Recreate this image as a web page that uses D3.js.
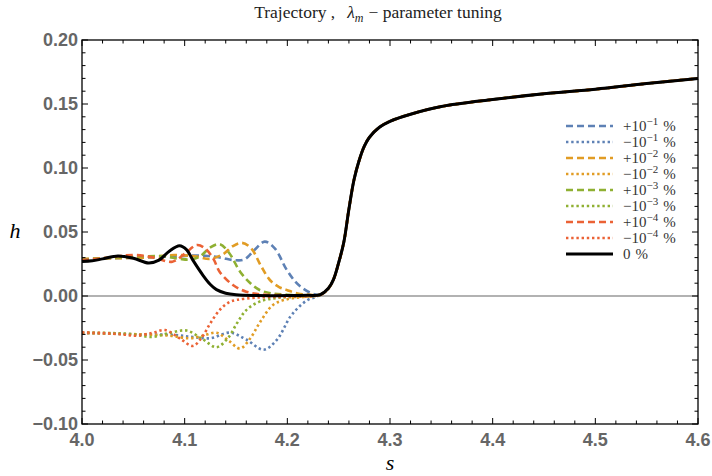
<!DOCTYPE html>
<html>
<head>
<meta charset="utf-8">
<script src="https://cdn.jsdelivr.net/npm/d3@7"></script>
<style>
body { margin: 0; background: #fff; }
</style>
</head>
<body>
<svg width="712" height="476"></svg>
<script>
// shared rise, all runs collapse onto it after s ~ 4.23
var tail = [[4.232,0.001],[4.24,0.006],[4.245,0.013],[4.25,0.026],[4.255,0.042],[4.26,0.068],
    [4.265,0.091],[4.27,0.106],[4.275,0.117],[4.28,0.124],[4.29,0.132],[4.30,0.1365],[4.32,0.142],
    [4.35,0.148],[4.4,0.1535],[4.45,0.158],[4.5,0.1615],[4.55,0.166],[4.6,0.170]];

var plus1 = [[4.0,0.0285],[4.03,0.0295],[4.06,0.030],[4.09,0.031],[4.12,0.0315],[4.135,0.030],[4.148,0.028],
    [4.158,0.0285],[4.168,0.036],[4.178,0.0425],[4.188,0.037],[4.199,0.021],[4.208,0.011],[4.215,0.006],[4.224,0.002]];
var minus1 = [[4.0,-0.029],[4.03,-0.0295],[4.06,-0.030],[4.09,-0.0305],[4.108,-0.032],[4.125,-0.033],[4.144,-0.0286],
    [4.16,-0.034],[4.177,-0.042],[4.19,-0.034],[4.203,-0.016],[4.212,-0.008],[4.22,-0.003],[4.227,-0.001]];
var plus2 = [[4.0,0.029],[4.03,0.0295],[4.06,0.030],[4.09,0.032],[4.11,0.031],[4.125,0.029],[4.138,0.033],
    [4.147,0.039],[4.156,0.0415],[4.165,0.037],[4.174,0.024],[4.183,0.0125],[4.192,0.007],[4.2,0.0045],[4.21,0.002],[4.222,0.001]];
var minus2 = [[4.0,-0.029],[4.03,-0.0295],[4.06,-0.030],[4.085,-0.031],[4.105,-0.033],[4.118,-0.031],[4.131,-0.0287],
    [4.143,-0.035],[4.154,-0.041],[4.164,-0.033],[4.173,-0.021],[4.186,-0.007],[4.2,-0.0025],[4.215,-0.0008]];
var plus3 = [[4.0,0.0285],[4.03,0.030],[4.06,0.031],[4.08,0.031],[4.095,0.029],[4.105,0.0285],[4.115,0.031],
    [4.125,0.038],[4.134,0.0405],[4.143,0.034],[4.154,0.019],[4.164,0.010],[4.173,0.0047],[4.185,0.002],[4.2,0.001],[4.222,0.0006]];
var minus3 = [[4.0,-0.0285],[4.03,-0.029],[4.05,-0.030],[4.068,-0.032],[4.085,-0.029],[4.102,-0.027],[4.118,-0.034],
    [4.131,-0.040],[4.142,-0.033],[4.151,-0.0212],[4.16,-0.011],[4.173,-0.0044],[4.19,-0.0015],[4.21,-0.0006]];
var plus4 = [[4.0,0.028],[4.02,0.0295],[4.05,0.032],[4.07,0.030],[4.088,0.0268],[4.1,0.033],[4.112,0.0398],
    [4.12,0.037],[4.128,0.029],[4.134,0.019],[4.147,0.0086],[4.16,0.0034],[4.175,0.0012],[4.2,0.0006],[4.222,0.0005]];
var minus4 = [[4.0,-0.0284],[4.02,-0.029],[4.04,-0.030],[4.052,-0.031],[4.068,-0.029],[4.081,-0.0266],[4.095,-0.033],
    [4.108,-0.039],[4.117,-0.032],[4.125,-0.0213],[4.134,-0.011],[4.143,-0.005],[4.151,-0.003],[4.17,-0.0012],[4.2,-0.0005]];
var exact = [[4.0,0.027],[4.01,0.0275],[4.02,0.029],[4.035,0.0313],[4.05,0.0295],[4.065,0.0258],[4.075,0.028],
    [4.085,0.035],[4.095,0.0392],[4.102,0.036],[4.108,0.028],[4.118,0.016],[4.125,0.009],[4.131,0.005],[4.14,0.0022],
    [4.15,0.0010],[4.17,0.0004],[4.2,0.0003],[4.22,0.0005]];

var seriesData = [plus1, minus1, plus2, minus2, plus3, minus3, plus4, minus4, exact];
var seriesSign = ["+", "\u2212", "+", "\u2212", "+", "\u2212", "+", "\u2212", ""];
var seriesExp = ["\u22121", "\u22121", "\u22122", "\u22122", "\u22123", "\u22123", "\u22124", "\u22124", ""];
var seriesColor = ["#5E81B5", "#5E81B5", "#E19C24", "#E19C24", "#8FB032", "#8FB032", "#EB6235", "#EB6235", "#000"];
var seriesDotted = [false, true, false, true, false, true, false, true, null];

var xTicks = [4.0, 4.1, 4.2, 4.3, 4.4, 4.5, 4.6];
var yTicks = [-0.10, -0.05, 0.00, 0.05, 0.10, 0.15, 0.20];

var svg = d3.select("svg");
var padL = 82, padR = 698, padT = 40, padB = 424;

var x = d3.scaleLinear().domain([4.0, 4.6]).range([padL, padR]);
var y = d3.scaleLinear().domain([-0.10, 0.20]).range([padB, padT]);

var serif = "'Liberation Serif', 'DejaVu Serif', serif";
var sans = "'Liberation Sans', Arial, sans-serif";

function dashFor(i) {
    if (seriesDotted[i] === null) return null;
    return seriesDotted[i] ? "2.4,2.8" : "7,4";
}

// zero line
svg.append("line")
    .attr("x1", padL).attr("x2", padR)
    .attr("y1", y(0)).attr("y2", y(0))
    .attr("stroke", "#999").attr("stroke-width", 1.3);

var line = d3.line()
    .x(function (d) { return x(d[0]); })
    .y(function (d) { return y(d[1]); })
    .curve(d3.curveCatmullRom.alpha(0.5));

var plot = svg.append("g");
seriesData.forEach(function (pts, i) {
    plot.append("path")
        .datum(pts.concat(tail))
        .attr("d", line)
        .attr("fill", "none")
        .attr("stroke", seriesColor[i])
        .attr("stroke-width", i == 8 ? 3 : 2.6)
        .attr("stroke-dasharray", dashFor(i));
});

// frame + ticks
var axG = svg.append("g").attr("stroke", "#000");
axG.append("rect")
    .attr("x", padL).attr("y", padT)
    .attr("width", padR - padL).attr("height", padB - padT)
    .attr("fill", "none").attr("stroke-width", 1.3);

d3.range(0, 31).forEach(function (k) {
    var s = 4.0 + k * 0.02;
    var len = (k % 5 == 0) ? 6 : 3.5;
    axG.append("line").attr("x1", x(s)).attr("x2", x(s)).attr("y1", padB).attr("y2", padB - len).attr("stroke-width", 1);
    axG.append("line").attr("x1", x(s)).attr("x2", x(s)).attr("y1", padT).attr("y2", padT + len).attr("stroke-width", 1);
});
d3.range(0, 31).forEach(function (k) {
    var h = -0.10 + k * 0.01;
    var len = (k % 5 == 0) ? 6 : 3.5;
    axG.append("line").attr("x1", padL).attr("x2", padL + len).attr("y1", y(h)).attr("y2", y(h)).attr("stroke-width", 1);
    axG.append("line").attr("x1", padR).attr("x2", padR - len).attr("y1", y(h)).attr("y2", y(h)).attr("stroke-width", 1);
});

svg.append("g").selectAll("text").data(xTicks).enter().append("text")
    .attr("x", function (d) { return x(d); })
    .attr("y", padB + 22)
    .attr("text-anchor", "middle")
    .attr("font-family", sans).attr("font-weight", "bold").attr("font-size", 18)
    .attr("fill", "#666")
    .text(function (d) { return d.toFixed(1); });

svg.append("g").selectAll("text").data(yTicks).enter().append("text")
    .attr("x", padL - 4)
    .attr("y", function (d) { return y(d) + 6; })
    .attr("text-anchor", "end")
    .attr("font-family", sans).attr("font-weight", "bold").attr("font-size", 18)
    .attr("fill", "#666")
    .text(function (d) { return d3.format(".2f")(d).replace("-", "\u2212"); });

// axis labels
svg.append("text").attr("x", 15).attr("y", 238)
    .attr("font-family", serif).attr("font-style", "italic").attr("font-size", 22)
    .attr("text-anchor", "middle").text("h");
svg.append("text").attr("x", 390).attr("y", 470)
    .attr("font-family", serif).attr("font-style", "italic").attr("font-size", 22)
    .attr("text-anchor", "middle").text("s");

// title
var title = svg.append("text").attr("x", 378).attr("y", 18)
    .attr("text-anchor", "middle")
    .attr("font-family", serif).attr("font-size", 17.5).attr("fill", "#222");
title.append("tspan").text("Trajectory ,");
title.append("tspan").attr("dx", 12).attr("font-style", "italic").text("\u03bb");
title.append("tspan").attr("font-style", "italic").attr("font-size", 12).attr("dy", 4).text("m");
title.append("tspan").attr("dy", -4).attr("dx", 5).text("\u2212 parameter tuning");

// legend
var legend = svg.append("g");
seriesData.forEach(function (pts, i) {
    var ly = 126 + i * 16;
    legend.append("line")
        .attr("x1", 566).attr("x2", 613).attr("y1", ly).attr("y2", ly)
        .attr("stroke", seriesColor[i])
        .attr("stroke-width", i == 8 ? 3 : 2.6)
        .attr("stroke-dasharray", dashFor(i));
    var t = legend.append("text").attr("x", 623).attr("y", ly + 5)
        .attr("font-family", serif).attr("font-size", 15).attr("fill", "#333");
    if (seriesExp[i]) {
        t.append("tspan").text(seriesSign[i] + "10");
        t.append("tspan").attr("font-size", 11).attr("dy", -6).text(seriesExp[i]);
        t.append("tspan").attr("dy", 6).attr("dx", 5).text("%");
    } else {
        t.append("tspan").text("0");
        t.append("tspan").attr("dx", 5).text("%");
    }
});
</script>
</body>
</html>
